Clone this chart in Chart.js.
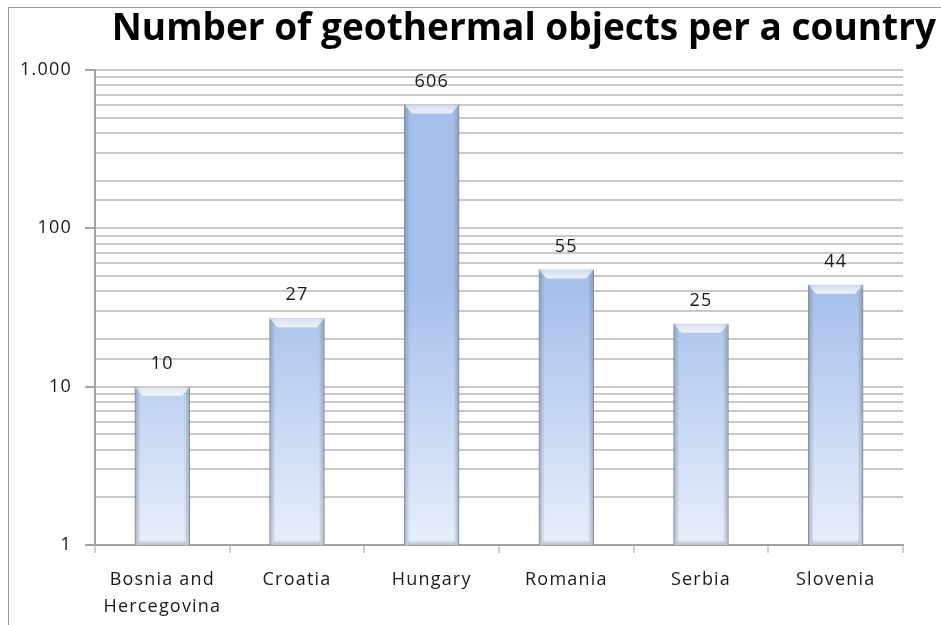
<!DOCTYPE html>
<html>
<head>
<meta charset="utf-8">
<title>Geothermal objects</title>
<script src="https://cdn.jsdelivr.net/npm/chart.js@4/dist/chart.umd.min.js"></script>
<style>
  html, body { margin: 0; padding: 0; background: #fff; }
  #wrap {
    position: absolute;
    left: 8px;
    top: 7px;
    width: 932px;
    height: 617px;
    border-left: 1px solid #9a9a9a;
    border-top: 1px solid #9a9a9a;
    overflow: hidden;
  }
  #chart { display: block; }
</style>
</head>
<body>
<div id="wrap"><canvas id="chart" width="932" height="617"></canvas></div>
<script>
const TITLE = "Number of geothermal objects per a country";
const countries = [["Bosnia and", "Hercegovina"], "Croatia", "Hungary", "Romania", "Serbia", "Slovenia"];
const objectCounts = [10, 27, 606, 55, 25, 44];
const decadeLabels = { 1: "1", 10: "10", 100: "100", 1000: "1.000" };

const FONT = "'Open Sans', Lato, sans-serif";
const GRID = "#c9c9c9";
const AXIS = "#a3a3a3";
const TEXT = "#1a1a1a";

function isDecade(v) {
  return Object.prototype.hasOwnProperty.call(decadeLabels, v);
}

// title hangs off to the right, past the plot area
const titlePlugin = {
  id: "sideTitle",
  beforeDraw(chart) {
    chart.ctx.letterSpacing = "1.2px";
  },
  afterDraw(chart) {
    const ctx = chart.ctx;
    ctx.save();
    ctx.letterSpacing = "0px";
    ctx.fillStyle = "#000";
    ctx.font = "bold 37px " + FONT;
    ctx.textAlign = "right";
    ctx.textBaseline = "alphabetic";
    ctx.fillText(TITLE, chart.width - 5, 32);
    ctx.restore();
  },
};

// gradient fill per bar, darker at the top, with bevelled edges
const barFill = {
  id: "barFill",
  beforeDatasetsDraw(chart) {
    const ctx = chart.ctx;
    chart.getDatasetMeta(0).data.forEach((bar) => {
      const g = ctx.createLinearGradient(0, bar.y, 0, bar.base);
      g.addColorStop(0, "#a4bfeb");
      g.addColorStop(1, "#e8effb");
      bar.options.backgroundColor = g;
    });
  },
  afterDatasetsDraw(chart) {
    const ctx = chart.ctx;
    const meta = chart.getDatasetMeta(0);
    ctx.save();
    meta.data.forEach((bar, i) => {
      const half = bar.width / 2;
      const left = bar.x - half;
      const right = bar.x + half;
      const top = bar.y;
      const bottom = bar.base;

      let g = ctx.createLinearGradient(left, 0, left + 6, 0);
      g.addColorStop(0, "rgba(110,120,140,0.55)");
      g.addColorStop(1, "rgba(110,120,140,0)");
      ctx.fillStyle = g;
      ctx.fillRect(left, top, 6, bottom - top);
      g = ctx.createLinearGradient(right, 0, right - 6, 0);
      g.addColorStop(0, "rgba(110,120,140,0.55)");
      g.addColorStop(1, "rgba(110,120,140,0)");
      ctx.fillStyle = g;
      ctx.fillRect(right - 6, top, 6, bottom - top);

      g = ctx.createLinearGradient(0, bottom, 0, bottom - 5);
      g.addColorStop(0, "rgba(110,120,140,0.45)");
      g.addColorStop(1, "rgba(110,120,140,0)");
      ctx.fillStyle = g;
      ctx.fillRect(left + 4, bottom - 5, bar.width - 8, 5);

      ctx.beginPath();
      ctx.moveTo(left, top);
      ctx.lineTo(right, top);
      ctx.lineTo(right - 8, top + 9);
      ctx.lineTo(left + 8, top + 9);
      ctx.closePath();
      g = ctx.createLinearGradient(0, top, 0, top + 9);
      g.addColorStop(0, "rgba(255,255,255,0.45)");
      g.addColorStop(1, "rgba(255,255,255,0.8)");
      ctx.fillStyle = g;
      ctx.fill();

      ctx.fillStyle = TEXT;
      ctx.font = "18px " + FONT;
      ctx.textAlign = "center";
      ctx.textBaseline = "bottom";
      ctx.fillText(String(objectCounts[i]), bar.x, top - 14);
    });
    ctx.restore();
  },
};

new Chart(document.getElementById("chart"), {
  type: "bar",
  data: {
    labels: countries,
    datasets: [
      {
        data: objectCounts,
        backgroundColor: "#c3d4f1",
        borderColor: "rgba(120,128,145,0.8)",
        borderWidth: 1,
        categoryPercentage: 1,
        barPercentage: 0.41,
      },
    ],
  },
  options: {
    responsive: false,
    animation: false,
    events: [],
    layout: { padding: { top: 62, right: 38, bottom: 0, left: 0 } },
    plugins: {
      legend: { display: false },
      tooltip: { enabled: false },
      title: { display: false },
    },
    scales: {
      x: {
        grid: {
          offset: true,
          drawOnChartArea: true,
          color: (ctx) => (ctx.index === countries.length ? GRID : "rgba(0,0,0,0)"),
          lineWidth: 2,
          tickColor: AXIS,
          tickLength: 8,
          tickWidth: 1,
        },
        border: { color: AXIS, width: 2 },
        ticks: {
          color: TEXT,
          font: { family: FONT, size: 18, lineHeight: 1.5 },
          padding: 13,
          maxRotation: 0,
          autoSkip: false,
        },
        afterFit(scale) {
          scale.height = 80;
        },
      },
      y: {
        type: "logarithmic",
        min: 1,
        max: 1000,
        grid: {
          color: GRID,
          lineWidth: 2,
          tickLength: 10,
          tickWidth: 2,
          tickColor: (ctx) => (ctx.tick && isDecade(ctx.tick.value) ? AXIS : "rgba(0,0,0,0)"),
        },
        border: { color: AXIS, width: 2 },
        ticks: {
          color: TEXT,
          font: { family: FONT, size: 18 },
          padding: 13,
          autoSkip: false,
          callback: (value) => (isDecade(value) ? decadeLabels[value] : ""),
        },
        afterFit(scale) {
          scale.width = 86;
        },
      },
    },
  },
  plugins: [titlePlugin, barFill],
});
</script>
</body>
</html>
